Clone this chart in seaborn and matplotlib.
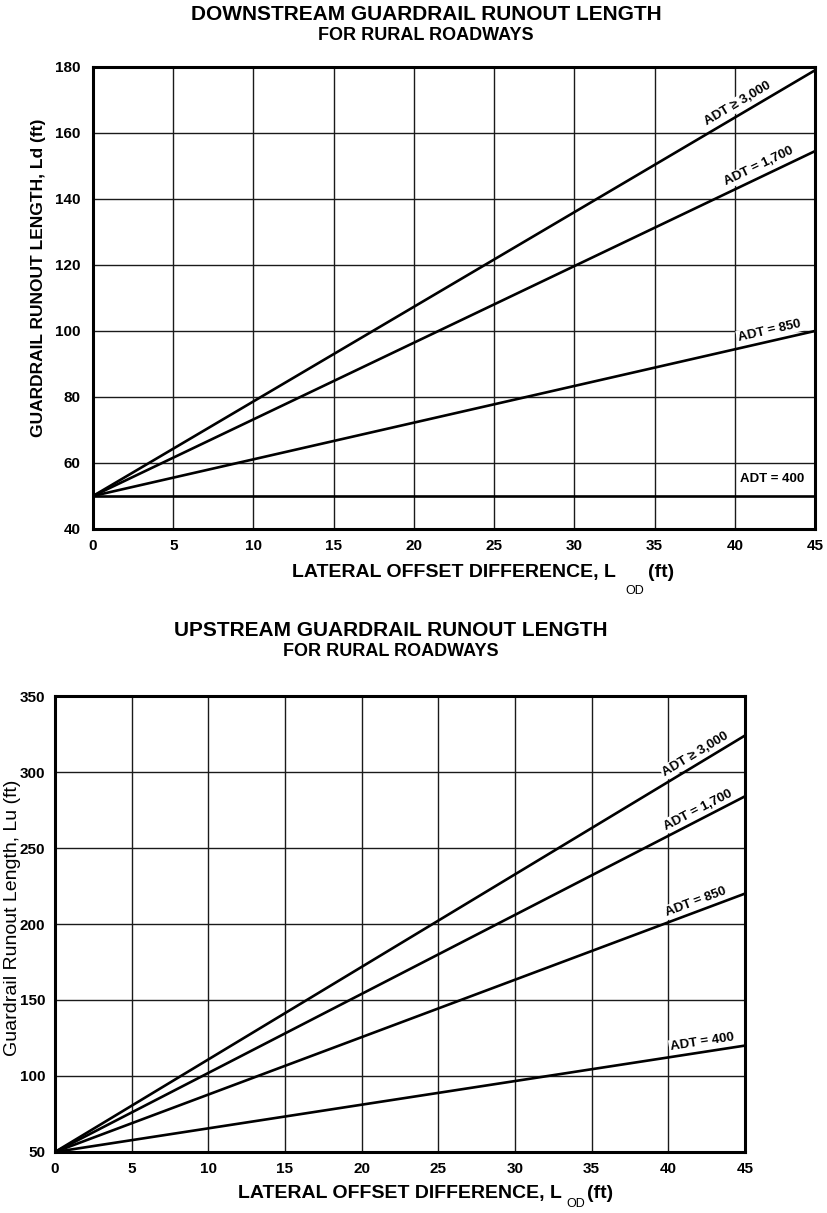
"""Guardrail runout length charts (downstream / upstream, rural roadways)."""

import math

import matplotlib

matplotlib.use("Agg")

import matplotlib.pyplot as plt
import numpy as np
import pandas as pd
import seaborn as sns
from matplotlib.ticker import MultipleLocator

# lateral offset difference range (ft)
LOD_FT = [0, 45]
X_TICKS = [0, 5, 10, 15, 20, 25, 30, 35, 40, 45]

ADT_LABELS = ["ADT \u2265 3,000", "ADT = 1,700", "ADT = 850", "ADT = 400"]

# downstream runout length Ld (ft) at L_OD = 0 ft and 45 ft
DOWN_LD_START = [50, 50, 50, 50]
DOWN_LD_END = [179, 154.5, 100, 50]
DOWN_Y_TICKS = [40, 60, 80, 100, 120, 140, 160, 180]

# upstream runout length Lu (ft) at L_OD = 0 ft and 45 ft
UP_LU_START = [50, 50, 50, 50]
UP_LU_END = [324, 284, 220, 120]
UP_Y_TICKS = [50, 100, 150, 200, 250, 300, 350]

sns.set_theme(style="white")
plt.rcParams.update(
    {
        "font.family": ["Liberation Sans", "DejaVu Sans"],
        "text.color": "black",
        "axes.labelcolor": "black",
        "axes.edgecolor": "black",
        "axes.linewidth": 2.2,
        "grid.color": "#1a1a1a",
        "grid.linewidth": 1.0,
        "xtick.color": "black",
        "ytick.color": "black",
    }
)


def runout_frame(starts, ends):
    rows = []
    for label, y0, y1 in zip(ADT_LABELS, starts, ends):
        rows.append({"adt": label, "lod": LOD_FT[0], "length": y0})
        rows.append({"adt": label, "lod": LOD_FT[1], "length": y1})
    return pd.DataFrame(rows)


def draw_panel(ax, frame, yticks, minor_step, ytick_pad, label_x, label_pad):
    sns.lineplot(
        data=frame,
        x="lod",
        y="length",
        hue="adt",
        palette=["black"] * len(ADT_LABELS),
        legend=False,
        sort=False,
        linewidth=1.9,
        ax=ax,
        zorder=3,
    )
    ax.set_xlim(LOD_FT[0], LOD_FT[1])
    ax.set_ylim(yticks[0], yticks[-1])
    ax.set_xticks(X_TICKS)
    ax.set_yticks(yticks)
    ax.xaxis.set_minor_locator(MultipleLocator(1))
    ax.yaxis.set_minor_locator(MultipleLocator(minor_step))
    ax.set_axisbelow(True)
    ax.grid(True, which="major")
    ax.tick_params(which="both", direction="in", top=False, right=False, width=1.4)
    ax.tick_params(which="major", length=6)
    ax.tick_params(which="minor", length=4)
    ax.tick_params(axis="x", which="major", pad=7, labelsize=11)
    ax.tick_params(axis="y", which="major", pad=ytick_pad, labelsize=11)
    for lbl in ax.get_xticklabels() + ax.get_yticklabels():
        lbl.set_fontweight("bold")
    for spine in ax.spines.values():
        spine.set_linewidth(2.2)

    # ADT labels written along each line
    for i, name in enumerate(ADT_LABELS):
        sub = frame[frame["adt"] == name]
        xs = sub["lod"].to_numpy(dtype=float)
        ys = sub["length"].to_numpy(dtype=float)
        p0 = ax.transData.transform((xs[0], ys[0]))
        p1 = ax.transData.transform((xs[-1], ys[-1]))
        angle = math.degrees(math.atan2(p1[1] - p0[1], p1[0] - p0[0]))
        lx = label_x[i]
        ly = float(np.interp(lx, xs, ys))
        rad = math.radians(angle)
        pad = label_pad[i]
        ax.annotate(
            name,
            xy=(lx, ly),
            xytext=(-pad * math.sin(rad), pad * math.cos(rad)),
            textcoords="offset points",
            rotation=angle,
            rotation_mode="anchor",
            ha="center",
            va="bottom",
            fontsize=9.5,
            fontweight="bold",
            zorder=2.5,
            bbox=dict(boxstyle="square,pad=0.1", fc="white", ec="none"),
        )


def lod_label(ax, label_y, od_dx, od_dy, ft_dx):
    ax.set_xlabel("LATERAL OFFSET DIFFERENCE, L", fontsize=14, fontweight="bold")
    ax.xaxis.set_label_coords(0.5, label_y)
    ax.xaxis.label.set_va("center")
    ax.annotate(
        "OD",
        xy=(1, 0.5),
        xycoords=ax.xaxis.label,
        xytext=(od_dx, od_dy),
        textcoords="offset points",
        ha="left",
        va="center",
        fontsize=9,
    )
    ax.annotate(
        "(ft)",
        xy=(1, 0.5),
        xycoords=ax.xaxis.label,
        xytext=(ft_dx, 0),
        textcoords="offset points",
        ha="left",
        va="center",
        fontsize=14,
        fontweight="bold",
    )


fig = plt.figure(figsize=(8.27, 12.13), dpi=100)
fig.patch.set_facecolor("white")

# downstream panel
ax_down = fig.add_axes([0.1125, 0.5639, 0.873, 0.3809])
draw_panel(
    ax_down,
    runout_frame(DOWN_LD_START, DOWN_LD_END),
    DOWN_Y_TICKS,
    minor_step=2,
    ytick_pad=9,
    label_x=[40.5, 41.8, 42.3, 42.3],
    label_pad=[3, 3, 3, 8],
)
ax_down.set_ylabel("GUARDRAIL RUNOUT LENGTH, Ld (ft)", fontsize=12.5, fontweight="bold")
ax_down.yaxis.set_label_coords(-0.076, 0.543)
ax_down.yaxis.label.set_va("center")
lod_label(ax_down, -0.095, od_dx=7, od_dy=-13, ft_dx=23)

fig.text(0.515, 1 - 14 / 1213, "DOWNSTREAM GUARDRAIL RUNOUT LENGTH",
         ha="center", va="center", fontsize=15, fontweight="bold")
fig.text(0.515, 1 - 36 / 1213, "FOR RURAL ROADWAYS",
         ha="center", va="center", fontsize=13, fontweight="bold")

# upstream panel
ax_up = fig.add_axes([0.0665, 0.0503, 0.8343, 0.3759])
draw_panel(
    ax_up,
    runout_frame(UP_LU_START, UP_LU_END),
    UP_Y_TICKS,
    minor_step=10,
    ytick_pad=7,
    label_x=[42.1, 42.2, 42.0, 42.3],
    label_pad=[2.5, 2.5, 2.5, 2.5],
)
ax_up.set_ylabel("Guardrail Runout Length, Lu (ft)", fontsize=14)
ax_up.yaxis.set_label_coords(-0.061, 0.513)
ax_up.yaxis.label.set_va("center")
lod_label(ax_up, -0.09, od_dx=3, od_dy=-8, ft_dx=18)

fig.text(0.472, 1 - 630 / 1213, "UPSTREAM GUARDRAIL RUNOUT LENGTH",
         ha="center", va="center", fontsize=15, fontweight="bold")
fig.text(0.472, 1 - 652 / 1213, "FOR RURAL ROADWAYS",
         ha="center", va="center", fontsize=13, fontweight="bold")

fig.savefig("out.png", dpi=100, facecolor="white")
plt.close(fig)
